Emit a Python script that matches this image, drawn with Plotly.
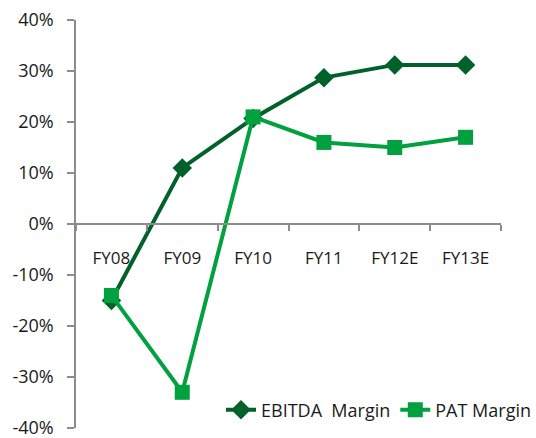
import plotly.graph_objects as go

# Fiscal years and margin series (in %)
years = ["FY08", "FY09", "FY10", "FY11", "FY12E", "FY13E"]
ebitda_margin = [-15, 11, 20.7, 28.7, 31.2, 31.2]
pat_margin = [-14, -33, 21, 16, 15, 17]
y_ticks = [-40, -30, -20, -10, 0, 10, 20, 30, 40]
y_tick_labels = [f"{v}%" for v in y_ticks]

DARK_GREEN = "#00622A"
MID_GREEN = "#00A13E"
AXIS_GREY = "#8C8C8C"
FONT = "Open Sans"

fig = go.Figure()
fig.add_trace(go.Scatter(
    x=years, y=ebitda_margin, name="EBITDA  Margin",
    mode="lines+markers",
    line=dict(color=DARK_GREEN, width=4),
    marker=dict(symbol="diamond", size=15, color=DARK_GREEN),
))
fig.add_trace(go.Scatter(
    x=years, y=pat_margin, name="PAT Margin",
    mode="lines+markers",
    line=dict(color=MID_GREEN, width=4),
    marker=dict(symbol="square", size=15, color=MID_GREEN),
))

fig.update_layout(
    width=536, height=438,
    margin=dict(l=76, r=35, t=20, b=10, autoexpand=False),
    paper_bgcolor="white", plot_bgcolor="white",
    font=dict(family=FONT, size=17, color="#1a1a1a"),
    showlegend=True,
    legend=dict(
        orientation="h", xref="container", x=1.0, xanchor="right",
        yref="container", y=0.064, yanchor="middle",
        bgcolor="rgba(0,0,0,0)", font=dict(size=18),
        itemwidth=30, tracegroupgap=0,
    ),
    xaxis=dict(
        type="category", range=[-0.5, 5.5],
        anchor="free", position=0.5,
        showline=True, linecolor=AXIS_GREY, linewidth=1.5,
        ticks="outside", ticklen=6, tickcolor=AXIS_GREY, tickwidth=1.5,
        tickson="boundaries", ticklabelstandoff=19, tickangle=0,
        showgrid=False, zeroline=False,
    ),
    yaxis=dict(
        range=[-40, 40], tickmode="array",
        tickvals=y_ticks, ticktext=y_tick_labels,
        tickfont=dict(size=18), ticklabeloverflow="allow",
        showline=True, linecolor=AXIS_GREY, linewidth=1.5,
        ticks="outside", ticklen=7, tickcolor=AXIS_GREY, tickwidth=1.5,
        ticklabelstandoff=10,
        showgrid=False, zeroline=False,
    ),
)

fig.write_html("out.html")
